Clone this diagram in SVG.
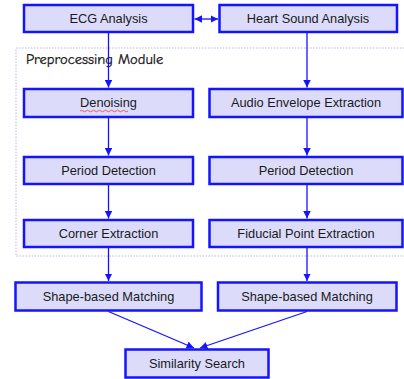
<svg xmlns="http://www.w3.org/2000/svg" width="404" height="379" viewBox="0 0 404 379">
<defs>
<style>
.box{fill:#dcdcfa;stroke:#1414ff;stroke-width:2.5}
.t{font-family:"Liberation Sans",Arial,sans-serif;font-size:12.8px;fill:#1a1a1a;text-anchor:middle}
.c{stroke:#1414ff;stroke-width:1.3;fill:none}
</style>
<marker id="ah" viewBox="0 0 10 10" refX="10" refY="5" markerWidth="7.5" markerHeight="7.5" markerUnits="userSpaceOnUse" orient="auto-start-reverse">
<path d="M0,0 L10,5 L0,10 z" fill="#1414ff"/>
</marker>
</defs>
<rect x="0" y="0" width="404" height="379" fill="#fff"/>
<g id="preprocessing-module">
<rect x="16" y="48" width="392" height="208" fill="none" stroke="#b4badf" stroke-width="1" stroke-dasharray="1.5,1.5"/>
<text x="26" y="64" font-family="'Comic Sans MS','Comic Neue','DejaVu Sans',sans-serif" font-size="14.5" fill="#111" stroke="#111" stroke-width="0.25">Preprocessing Module</text>
</g>
<g id="ecg-analysis"><rect class="box" x="24" y="5" width="169" height="27"/><text class="t" x="108.5" y="23">ECG Analysis</text></g>
<g id="heart-sound-analysis"><rect class="box" x="219.5" y="5" width="177.5" height="27"/><text class="t" x="308" y="23">Heart Sound Analysis</text></g>
<g id="denoising"><rect class="box" x="24" y="89" width="169" height="28"/><text class="t" x="108.5" y="107">Denoising</text>
<path d="M80,111 q1.5,-1.5 3,0 t3,0 t3,0 t3,0 t3,0 t3,0 t3,0 t3,0 t3,0 t3,0 t3,0 t3,0 t3,0 t3,0 t3,0 t3,0" fill="none" stroke="#e04040" stroke-width="0.8"/></g>
<g id="audio-envelope-extraction"><rect class="box" x="209.5" y="89" width="193" height="28"/><text class="t" x="306" y="107">Audio Envelope Extraction</text></g>
<g id="period-detection-left"><rect class="box" x="24" y="157" width="169" height="27"/><text class="t" x="108.5" y="175">Period Detection</text></g>
<g id="period-detection-right"><rect class="box" x="209.5" y="157" width="193" height="27"/><text class="t" x="306" y="175">Period Detection</text></g>
<g id="corner-extraction"><rect class="box" x="24" y="220" width="169" height="27"/><text class="t" x="108.5" y="238">Corner Extraction</text></g>
<g id="fiducial-point-extraction"><rect class="box" x="209.5" y="220" width="193" height="27"/><text class="t" x="306" y="238">Fiducial Point Extraction</text></g>
<g id="shape-matching-left"><rect class="box" x="15.5" y="282.5" width="186" height="28"/><text class="t" x="108.5" y="301">Shape-based Matching</text></g>
<g id="shape-matching-right"><rect class="box" x="218" y="282.5" width="178.5" height="28"/><text class="t" x="307" y="301">Shape-based Matching</text></g>
<g id="similarity-search"><rect class="box" x="125.5" y="349.5" width="143" height="28"/><text class="t" x="197" y="368">Similarity Search</text></g>
<g id="connectors">
<line class="c" x1="194.5" y1="19" x2="218" y2="19" marker-start="url(#ah)" marker-end="url(#ah)"/>
<line class="c" x1="108.5" y1="33" x2="108.5" y2="87.5" marker-end="url(#ah)"/>
<line class="c" x1="307" y1="33" x2="307" y2="87.5" marker-end="url(#ah)"/>
<line class="c" x1="108.5" y1="118" x2="108.5" y2="155.5" marker-end="url(#ah)"/>
<line class="c" x1="307" y1="118" x2="307" y2="155.5" marker-end="url(#ah)"/>
<line class="c" x1="108.5" y1="185" x2="108.5" y2="218.5" marker-end="url(#ah)"/>
<line class="c" x1="307" y1="185" x2="307" y2="218.5" marker-end="url(#ah)"/>
<line class="c" x1="108.5" y1="248" x2="108.5" y2="281" marker-end="url(#ah)"/>
<line class="c" x1="307" y1="248" x2="307" y2="281" marker-end="url(#ah)"/>
<line class="c" x1="108.5" y1="311.5" x2="194" y2="348" marker-end="url(#ah)"/>
<line class="c" x1="307" y1="311.5" x2="200" y2="348" marker-end="url(#ah)"/>
</g>
</svg>
